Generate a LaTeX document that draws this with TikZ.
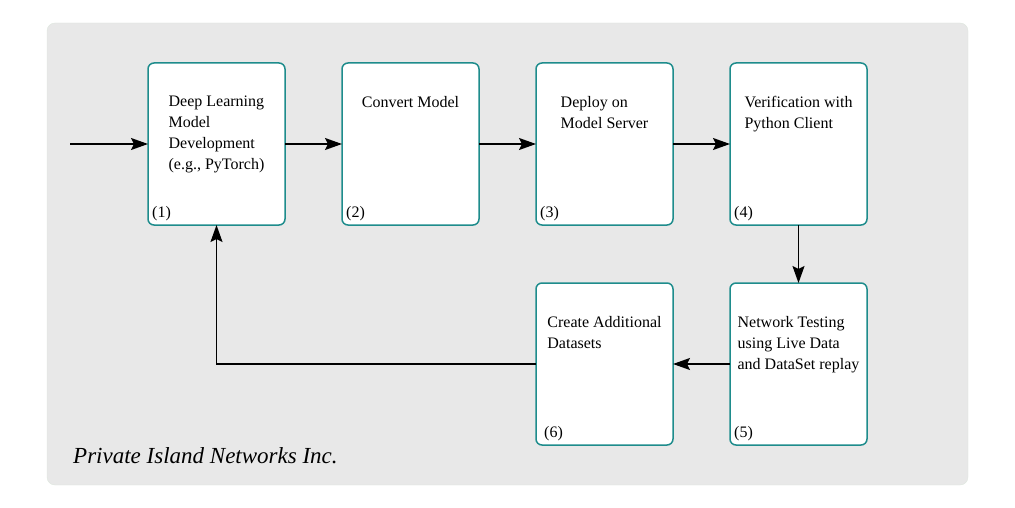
\documentclass[tikz,border=0pt]{standalone}
\usepackage{fontspec}
\setmainfont{Liberation Serif}
\usepackage{tikz}
\usetikzlibrary{arrows.meta,positioning}
\definecolor{pinteal}{RGB}{30,140,140}
\definecolor{pingrey}{RGB}{232,232,232}
\definecolor{pinedge}{RGB}{222,230,222}

\begin{document}
\begin{tikzpicture}[x=1pt, y=-1pt, font=\fontsize{16pt}{21pt}\selectfont,
    blk/.style={rectangle, draw=pinteal, line width=1.5pt, rounded corners=6pt, fill=white,
                minimum width=137pt, minimum height=162pt, inner sep=0pt, outer sep=0pt},
    txt/.style={anchor=north, align=left, inner sep=0pt},
    num/.style={anchor=south west, inner sep=2pt},
    flow/.style={line width=1.6pt, -{Stealth[length=17pt,width=12pt,inset=3pt]}}]
\useasboundingbox (0,0) rectangle (1015,508);
% background panel
\draw[pinedge, fill=pingrey, rounded corners=8pt] (47,23) rectangle (968,485);

% top row
\node[blk] (dev) at (216.5,144) {};
\node[blk, right=57pt of dev] (conv) {};
\node[blk, right=57pt of conv] (deploy) {};
\node[blk, right=57pt of deploy] (verify) {};
% bottom row
\node[blk, below=58pt of verify] (nettest) {};
\node[blk, below=58pt of deploy] (addl) {};

% box texts
\node[txt] (tdev) at ([yshift=-33pt]dev.north) {Deep Learning\\Model\\Development\\(e.g., PyTorch)};
\node[txt] (tconv) at ([yshift=-33pt]conv.north) {Convert Model};
\node[txt] (tdeploy) at ([yshift=-33pt]deploy.north) {Deploy on\\Model Server};
\node[txt] (tverify) at ([yshift=-33pt]verify.north) {Verification with\\Python Client};
\node[txt] (tnettest) at ([yshift=-33pt]nettest.north) {Network Testing\\using Live Data\\and DataSet replay};
\node[txt] (taddl) at ([yshift=-33pt]addl.north) {Create Additional\\Datasets};

% step numbers
\node[num] (ndev) at ([xshift=2pt,yshift=2pt]dev.south west) {(1)};
\node[num] (nconv) at ([xshift=2pt,yshift=2pt]conv.south west) {(2)};
\node[num] (ndeploy) at ([xshift=2pt,yshift=2pt]deploy.south west) {(3)};
\node[num] (nverify) at ([xshift=2pt,yshift=2pt]verify.south west) {(4)};
\node[num] (nnettest) at ([xshift=2pt,yshift=2pt]nettest.south west) {(5)};
\node[num] (naddl) at ([xshift=6pt,yshift=2pt]addl.south west) {(6)};

% connectors
\coordinate (start) at (70,144);
\draw[flow] (start) -- (dev);
\draw[flow] (dev) -- (conv);
\draw[flow] (conv) -- (deploy);
\draw[flow] (deploy) -- (verify);
\draw[flow] (verify) -- (nettest);
\draw[flow] (nettest) -- (addl);
\draw[flow] (addl.west) -| (dev.south);

% footer
\node[anchor=base west, inner sep=0pt, font=\fontsize{23pt}{27pt}\selectfont\itshape] (company) at (73,463) {Private Island Networks Inc.};
\end{tikzpicture}
\end{document}
